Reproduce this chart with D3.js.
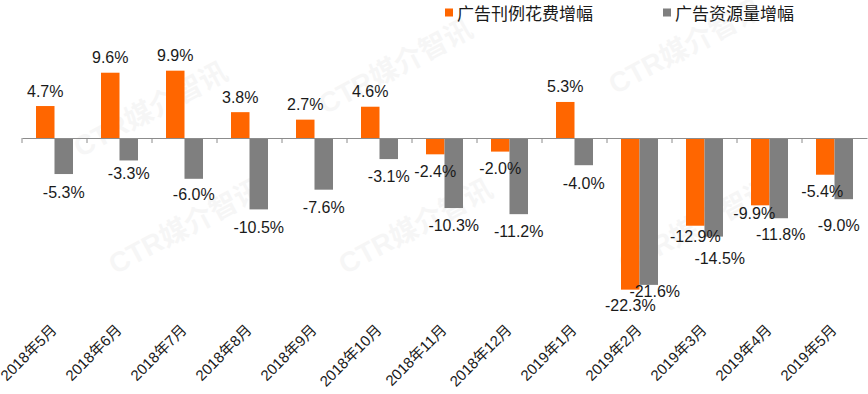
<!DOCTYPE html>
<html>
<head>
<meta charset="utf-8">
<script src="https://cdn.jsdelivr.net/npm/d3@7"></script>
<style>
	body { margin: 0; background: #fff; }
	svg { display: block; }
	text { font-family: "Liberation Sans", Arial, "Noto Sans CJK SC", sans-serif; }
</style>
</head>
<body>
<div id="chart-wrap"></div>
<script>
//Data
const categories = ["2018年5月", "2018年6月", "2018年7月", "2018年8月", "2018年9月", "2018年10月", "2018年11月",
	"2018年12月", "2019年1月", "2019年2月", "2019年3月", "2019年4月", "2019年5月"];
const seriesNames = ["广告刊例花费增幅", "广告资源量增幅"];
const spendGrowth = [4.7, 9.6, 9.9, 3.8, 2.7, 4.6, -2.4, -2.0, 5.3, -22.3, -12.9, -9.9, -5.4];
const volumeGrowth = [-5.3, -3.3, -6.0, -10.5, -7.6, -3.1, -10.3, -11.2, -4.0, -21.6, -14.5, -11.8, -9.0];

//Layout
const width = 868, height = 394;
const colors = ["#FF6600", "#7F7F7F"];
//hand moved labels, [dx, dy] like in the original
const labelNudge = [
	[[0,0],[0,0],[0,0],[0,0],[0,0],[0,0],[0,0],[0,0],[0,0],[0,-1],[0,-6],[-6,-9],[-3,0]],
	[[0,1],[0,-4],[0,-1],[0,1],[0,1],[0,0],[0,0],[0,0],[0,1],[6,-10],[6,5],[2,-1],[-5,9]]
];

let svg = d3.select("#chart-wrap")
	.append("svg")
	.attr("width", width)
	.attr("height", height);

//faint watermark
let marks = [[155, 118], [400, 75], [690, 55], [420, 235], [190, 235], [700, 235]];
svg.selectAll(".wm")
	.data(marks)
	.enter()
	.append("text")
	.attr("class", "wm")
	.attr("transform", d => "translate(" + d[0] + "," + d[1] + ") rotate(-28)")
	.attr("text-anchor", "middle")
	.style("font-size", "28px")
	.style("font-weight", "bold")
	.style("fill", "#000")
	.style("opacity", 0.03)
	.text("CTR媒介智讯");

const x = d3.scaleBand().domain(categories).range([22, 867]);
const x1 = d3.scaleBand().domain(seriesNames).range([14, 51]);
const y = d3.scaleLinear().domain([-25, 12]).range([308, 56.4]);

let rows = categories.map((c, i) => ({cat: c, vals: [spendGrowth[i], volumeGrowth[i]], idx: i}));

let groups = svg.selectAll(".grp")
	.data(rows)
	.enter()
	.append("g")
	.attr("class", "grp")
	.attr("transform", d => "translate(" + x(d.cat) + ",0)");

groups.selectAll("rect")
	.data(d => d.vals.map((v, s) => ({v: v, s: s})))
	.enter()
	.append("rect")
	.attr("x", d => x1(seriesNames[d.s]))
	.attr("width", x1.bandwidth())
	.attr("y", d => y(Math.max(0, d.v)))
	.attr("height", d => Math.abs(y(d.v) - y(0)))
	.style("fill", d => colors[d.s]);

//axis
let axis = svg.append("g")
	.attr("transform", "translate(0," + y(0) + ")")
	.call(d3.axisBottom(x).tickSize(0).tickFormat(""));
axis.select(".domain").attr("stroke", "#8c8c8c").attr("stroke-width", 1.2);
axis.selectAll(".sep")
	.data(categories)
	.enter()
	.append("line")
	.attr("class", "sep")
	.attr("x1", d => x(d)).attr("x2", d => x(d))
	.attr("y1", 0).attr("y2", 5)
	.attr("stroke", "#8c8c8c");

//value labels
groups.selectAll(".lbl")
	.data(d => d.vals.map((v, s) => ({v: v, s: s, n: labelNudge[s][d.idx]})))
	.enter()
	.append("text")
	.attr("class", "lbl")
	.attr("text-anchor", "middle")
	.attr("x", d => x1(seriesNames[d.s]) + x1.bandwidth() / 2 + d.n[0])
	.attr("y", d => (d.v >= 0 ? y(d.v) - 9.5 : y(d.v) + 22.5) + d.n[1])
	.style("font-size", "16px")
	.style("fill", "#1a1a1a")
	.text(d => d.v.toFixed(1) + "%");

//category labels
svg.selectAll(".cat")
	.data(categories)
	.enter()
	.append("text")
	.attr("class", "cat")
	.attr("text-anchor", "end")
	.attr("transform", d => "translate(" + (x(d) + x.bandwidth() / 2 + 3) + ",331) rotate(-45)")
	.style("font-size", "15px")
	.style("fill", "#1a1a1a")
	.text(d => d);

//legend
let legend = svg.selectAll(".leg")
	.data(seriesNames)
	.enter()
	.append("g")
	.attr("class", "leg")
	.attr("transform", (d, i) => "translate(" + [445, 663][i] + ",0)");
legend.append("rect")
	.attr("x", 0).attr("y", 8.5)
	.attr("width", 8).attr("height", 8)
	.style("fill", (d, i) => colors[i]);
legend.append("text")
	.attr("x", 12).attr("y", 20)
	.style("font-size", "17px")
	.style("font-family", "'Noto Sans CJK SC', sans-serif")
	.style("fill", "#1a1a1a")
	.text(d => d);
</script>
</body>
</html>
